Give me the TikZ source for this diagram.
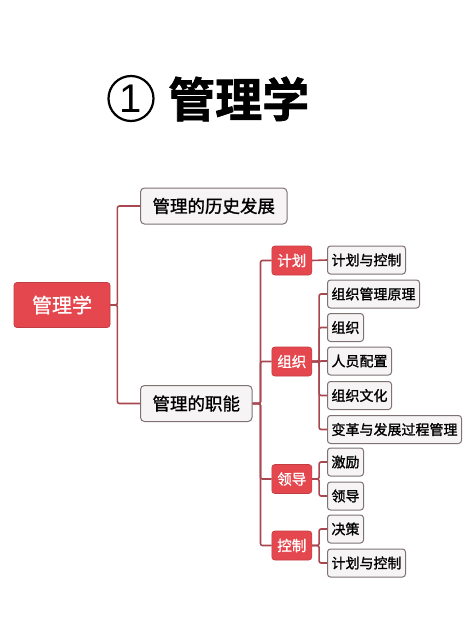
\documentclass[tikz,border=0pt]{standalone}
\usepackage{fontspec}
\newfontfamily\cjk[FakeBold=1.2]{Noto Sans CJK SC}
\newfontfamily\cjktitle[FakeBold=1.5]{Noto Sans CJK SC Bold}
\setmainfont{Liberation Sans}
\definecolor{redbox}{HTML}{E5474E}
\definecolor{redline}{HTML}{A8474F}
\definecolor{grayfill}{HTML}{F6F4F4}
\definecolor{grayline}{HTML}{7E7273}
\tikzset{
  rootbox/.style={draw=redbox!85!black, fill=redbox, text=white, rounded corners=3pt, line width=0.8pt,
    font=\cjk\fontsize{20}{20}\selectfont, inner xsep=18pt, minimum height=45pt, inner ysep=0pt},
  lvlbox/.style={draw=grayline, fill=grayfill, text=black, rounded corners=4pt, line width=1pt,
    font=\cjk\fontsize{17.5}{17.5}\selectfont, inner xsep=12pt, minimum height=36pt, inner ysep=0pt, anchor=west},
  brbox/.style={draw=redbox!85!black, fill=redbox, text=white, rounded corners=3pt, line width=0.6pt,
    font=\cjk\fontsize{14.5}{14.5}\selectfont, inner xsep=5.5pt, minimum height=29pt, inner ysep=0pt, anchor=west},
  leafbox/.style={draw=grayline, fill=grayfill, text=black, rounded corners=3pt, line width=1pt,
    font=\cjk\fontsize{14}{14}\selectfont, inner xsep=4pt, minimum height=28pt, inner ysep=0pt, anchor=west},
  conn/.style={draw=redline, line width=1.6pt, rounded corners=2pt},
}
\begin{document}
\begin{tikzpicture}[x=1pt,y=-1pt]
\useasboundingbox (0,0) rectangle (476,640);
% title
\node[draw=black, circle, line width=2.2pt, minimum size=45pt, inner sep=0pt,
  font=\fontsize{40}{40}\selectfont] (num) at (131,98.5) {1};
\node[font=\cjktitle\fontsize{47}{47}\selectfont, anchor=west, inner sep=0pt] (title) at (168,99) {管理学};
% nodes
\node[rootbox] (root) at (62,305) {管理学};
\node[lvlbox] (hist) at (140,206) {管理的历史发展};
\node[lvlbox] (func) at (140,403.5) {管理的职能};
\node[brbox] (jh) at (271.5,260.5) {计划};
\node[brbox] (zz) at (271.5,361.5) {组织};
\node[brbox] (ld) at (271.5,479) {领导};
\node[brbox] (kz) at (271.5,545.5) {控制};
\node[leafbox] (l1) at (327,260) {计划与控制};
\node[leafbox] (l2) at (327,294) {组织管理原理};
\node[leafbox] (l3) at (327,327.5) {组织};
\node[leafbox] (l4) at (327,361) {人员配置};
\node[leafbox] (l5) at (327,395.5) {组织文化};
\node[leafbox] (l6) at (327,429.5) {变革与发展过程管理};
\node[leafbox] (l7) at (327,462) {激励};
\node[leafbox] (l8) at (327,496) {领导};
\node[leafbox] (l9) at (327,529) {决策};
\node[leafbox] (l10) at (327,563) {计划与控制};
% connectors
\draw[conn] (root.east) -- ++(7,0) |- (hist.west);
\draw[conn] (root.east) -- ++(7,0) |- (func.west);
\draw[conn] (func.east) -- ++(8,0) |- (jh.west);
\draw[conn] (func.east) -- ++(8,0) |- (zz.west);
\draw[conn] (func.east) -- ++(8,0) |- (ld.west);
\draw[conn] (func.east) -- ++(8,0) |- (kz.west);
\draw[conn] (jh.east) -- (l1.west);
\foreach \l in {l2,l3,l4,l5,l6} \draw[conn] (zz.east) -- ++(7,0) |- (\l.west);
\foreach \l in {l7,l8} \draw[conn] (ld.east) -- ++(7,0) |- (\l.west);
\foreach \l in {l9,l10} \draw[conn] (kz.east) -- ++(7,0) |- (\l.west);
\end{tikzpicture}
\end{document}
